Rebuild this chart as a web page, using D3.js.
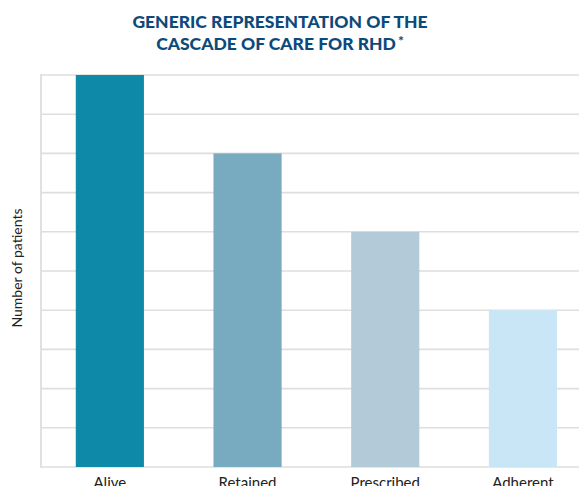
<!DOCTYPE html>
<html>
<head>
<meta charset="utf-8">
<script src="https://cdn.jsdelivr.net/npm/d3@7"></script>
<style>
  html, body { margin: 0; padding: 0; background: #fff; }
  svg { display: block; }
</style>
</head>
<body>
<svg id="chart" width="579" height="486"></svg>
<script>
// Cascade of care stages and relative patient counts
const stages = ["Alive", "Retained", "Prescribed", "Adherent"];
const patients = [10, 8, 6, 4];
const barColors = ["#0f89a8", "#78aac0", "#b3cbd8", "#c8e6f6"];
const gridTicks = [0, 1, 2, 3, 4, 5, 6, 7, 8, 9, 10];
const titleLines = ["GENERIC REPRESENTATION OF THE", "CASCADE OF CARE FOR RHD"];
const titleMark = "*";
const yLabel = "Number of patients";

(function () {
  const svg = d3.select("#chart");
  const W = 579;
  const plotLeft = 41, plotTop = 75, plotBottom = 467;

  const x = d3.scaleBand().domain(stages)
    .range([plotLeft, plotLeft + 4 * 137.7])
    .paddingInner(0.505).paddingOuter(0.2525);
  const y = d3.scaleLinear().domain([0, 10]).range([plotBottom, plotTop]);

  // horizontal gridlines
  svg.append("g")
    .selectAll("line")
    .data(gridTicks)
    .join("line")
    .attr("x1", plotLeft)
    .attr("x2", W)
    .attr("y1", d => y(d))
    .attr("y2", d => y(d))
    .attr("stroke", "#dedede")
    .attr("stroke-width", 1.6);

  // left axis line
  svg.append("line")
    .attr("x1", plotLeft).attr("x2", plotLeft)
    .attr("y1", plotTop - 1).attr("y2", plotBottom + 1)
    .attr("stroke", "#dedede")
    .attr("stroke-width", 1.8);

  // bars
  svg.append("g")
    .selectAll("rect")
    .data(stages)
    .join("rect")
    .attr("x", d => x(d))
    .attr("width", x.bandwidth())
    .attr("y", (d, i) => y(patients[i]))
    .attr("height", (d, i) => y(0) - y(patients[i]))
    .attr("fill", (d, i) => barColors[i]);

  // category labels
  svg.append("g")
    .selectAll("text")
    .data(stages)
    .join("text")
    .attr("x", d => x(d) + x.bandwidth() / 2)
    .attr("y", 488)
    .attr("text-anchor", "middle")
    .attr("font-family", "Lato, 'Open Sans', sans-serif")
    .attr("font-size", 15)
    .attr("fill", "#222")
    .text(d => d);

  // y axis title
  svg.append("text")
    .attr("transform", "translate(22,268) rotate(-90)")
    .attr("text-anchor", "middle")
    .attr("font-family", "Lato, 'Open Sans', sans-serif")
    .attr("font-size", 14)
    .attr("fill", "#222")
    .text(yLabel);

  // chart title, with a raised footnote mark on the last line
  const title = svg.append("g")
    .attr("font-family", "Lato, 'Open Sans', sans-serif")
    .attr("font-weight", 900)
    .attr("font-size", 17.5)
    .attr("fill", "#0d4a7a")
    .attr("text-anchor", "middle");

  titleLines.forEach((line, i) => {
    const t = title.append("text")
      .attr("x", 280)
      .attr("y", 28 + i * 22);
    t.append("tspan").text(line);
    if (i === titleLines.length - 1) {
      t.append("tspan")
        .attr("dx", 2)
        .attr("dy", -4)
        .attr("font-size", 14)
        .attr("font-weight", 700)
        .text(titleMark);
    }
  });
})();
</script>
</body>
</html>
